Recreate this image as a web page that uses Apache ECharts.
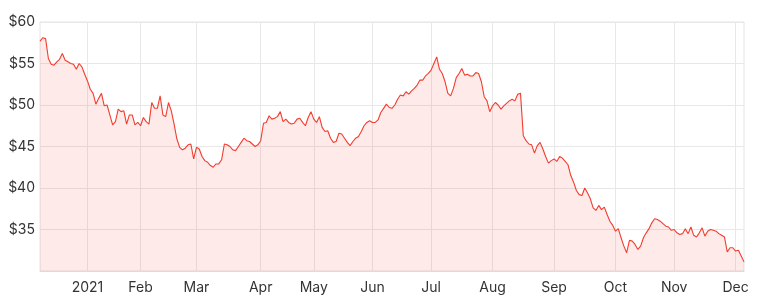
<!DOCTYPE html>
<html>
<head>
<meta charset="utf-8">
<script src="https://cdn.jsdelivr.net/npm/echarts@6/dist/echarts.min.js"></script>
<style>
html,body{margin:0;padding:0;background:#fff;}
#chart{width:767px;height:302px;}
</style>
</head>
<body>
<div id="chart"></div>
<script>
// Trading-day range (ASX calendar) and holidays that are skipped
const startDate = '2020-12-07';
const endDate = '2021-12-06';
const holidays = ['2020-12-25','2020-12-28','2021-01-01','2021-01-26','2021-04-02','2021-04-05','2021-04-26','2021-06-14'];
const monthNames = ['Jan','Feb','Mar','Apr','May','Jun','Jul','Aug','Sep','Oct','Nov','Dec'];
const yTicks = [30, 35, 40, 45, 50, 55, 60];

// Closing prices, one per trading day
const prices = [
57.7,58.1,58.0,55.6,54.9,54.8,55.2,55.5,56.2,55.4,
55.2,55.0,54.9,54.3,55.0,54.6,53.7,52.9,51.9,51.4,
50.1,50.8,51.4,49.9,50.0,48.8,47.6,48.0,49.5,49.2,
49.3,47.7,48.8,48.8,47.6,47.9,47.5,48.5,48.0,47.7,
50.3,49.6,49.6,51.1,48.8,48.6,50.3,49.3,47.7,45.9,
44.9,44.6,44.8,45.2,45.3,43.5,44.9,44.7,43.8,43.3,
43.1,42.7,42.5,42.9,42.9,43.4,45.3,45.2,45.0,44.6,
44.5,45.0,45.5,46.0,45.7,45.6,45.3,45.0,45.2,45.7,
47.8,47.9,48.7,48.3,48.4,48.6,49.2,48.0,48.3,47.9,
47.7,47.8,48.3,48.4,47.9,47.5,48.5,49.2,48.3,47.9,
48.6,47.3,46.8,46.9,46.0,45.5,45.6,46.6,46.5,46.0,
45.5,45.1,45.6,46.0,46.2,46.8,47.5,47.9,48.1,47.9,
47.9,48.2,49.1,49.6,50.1,49.7,49.6,50.0,50.7,51.2,
51.1,51.6,51.3,51.7,52.0,52.4,53.0,53.0,53.5,53.8,
54.2,55.0,55.8,54.3,53.8,52.8,51.4,51.1,52.0,53.3,
53.8,54.4,53.6,53.7,53.5,53.5,53.9,53.8,52.8,51.0,
50.5,49.2,49.9,50.3,50.0,49.5,49.9,50.2,50.5,50.7,
50.5,51.3,51.4,46.3,45.7,45.3,45.2,44.2,45.1,45.5,
44.7,43.8,43.0,43.3,43.5,43.2,43.8,43.6,43.2,42.8,
41.5,40.7,39.7,39.2,39.1,40.0,39.4,38.7,37.6,37.3,
37.9,37.4,37.7,36.8,36.0,35.5,34.8,35.1,34.0,33.0,
32.2,33.7,33.6,33.2,32.6,33.0,34.0,34.6,35.1,35.8,
36.3,36.2,36.0,35.7,35.4,35.3,34.9,35.0,34.6,34.4,
34.5,35.1,34.5,35.3,34.3,34.1,34.6,35.2,34.2,34.8,
35.0,34.9,34.8,34.5,34.3,34.1,32.3,32.8,32.8,32.4,
32.5,31.8,31.1
];

function fmt(d){
  const m = String(d.getUTCMonth()+1).padStart(2,'0');
  const day = String(d.getUTCDate()).padStart(2,'0');
  return d.getUTCFullYear()+'-'+m+'-'+day;
}
const dates = [];
for (let d = new Date(startDate+'T00:00:00Z'); fmt(d) <= endDate; d.setUTCDate(d.getUTCDate()+1)) {
  const wd = d.getUTCDay();
  const s = fmt(d);
  if (wd === 0 || wd === 6 || holidays.indexOf(s) >= 0) continue;
  dates.push(s);
}

function isMonthStart(idx){
  if (idx <= 0) return false;
  return dates[idx].slice(5,7) !== dates[idx-1].slice(5,7);
}

const chart = echarts.init(document.getElementById('chart'), null, {renderer:'canvas'});
const font = 'Inter, "Open Sans", sans-serif';
chart.setOption({
  animation: false,
  backgroundColor: '#ffffff',
  grid: {
    left: 40, right: 23, top: 22, bottom: 31,
    containLabel: false,
    outerBoundsMode: 'none',
    show: true,
    borderColor: '#e4e4e4',
    borderWidth: 1
  },
  xAxis: {
    type: 'category',
    data: dates,
    boundaryGap: false,
    axisLine: {show: true, lineStyle: {color: '#dcdcdc', width: 1}},
    axisTick: {show: false},
    axisLabel: {
      interval: function(idx){ return isMonthStart(idx); },
      formatter: function(v){
        const m = parseInt(v.slice(5,7),10) - 1;
        return m === 0 ? v.slice(0,4) : monthNames[m];
      },
      color: '#333333',
      fontFamily: font,
      fontSize: 14,
      margin: 10
    },
    splitLine: {
      show: true,
      interval: function(idx){ return isMonthStart(idx); },
      lineStyle: {color: '#e8e8e8', width: 1}
    }
  },
  yAxis: {
    type: 'value',
    min: yTicks[0],
    max: yTicks[yTicks.length-1],
    interval: yTicks[1]-yTicks[0],
    axisLine: {show: false},
    axisTick: {show: false},
    axisLabel: {
      showMinLabel: false,
      formatter: function(v){ return '$' + v; },
      color: '#333333',
      fontFamily: font,
      fontSize: 14,
      margin: 5
    },
    splitLine: {show: true, lineStyle: {color: '#e8e8e8', width: 1}}
  },
  series: [{
    type: 'line',
    data: prices,
    showSymbol: false,
    symbol: 'none',
    smooth: false,
    lineStyle: {color: '#f23c2e', width: 1.1},
    areaStyle: {color: 'rgba(240,60,50,0.15)', origin: 'start'}
  }]
});
</script>
</body>
</html>
